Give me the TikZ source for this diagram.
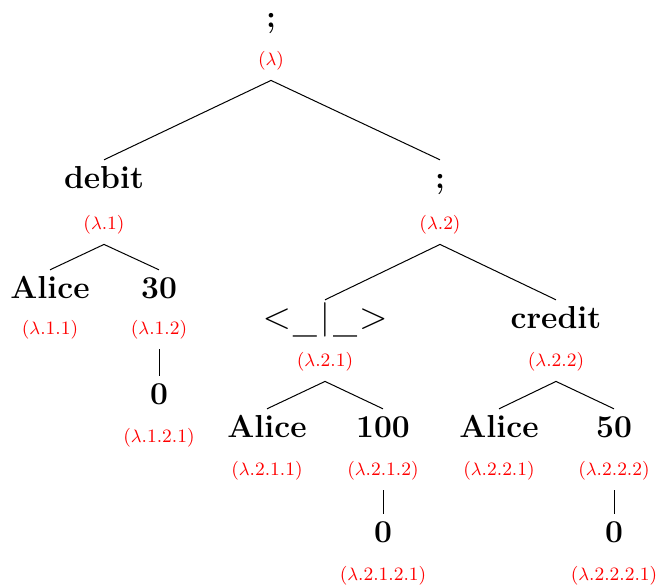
\documentclass[tikz,border=0pt]{standalone}
\usepackage{graphicx}
\tikzset{
  bnode/.style={font=\fontsize{15.9}{18}\selectfont\bfseries, anchor=base, text height=10.6pt, text depth=3pt, inner xsep=2pt, inner ysep=3.3pt},
  lab/.style={font=\fontsize{9.45}{11}\selectfont, text=red, anchor=base, text height=6pt, text depth=2pt, inner xsep=1pt, inner ysep=5.5pt},
  edge/.style={draw=black, line width=0.5pt}
}
\newcommand{\uscore}{\raisebox{-2pt}{\scalebox{0.89}[1]{\_}}}
\begin{document}
\begin{tikzpicture}[x=0.5pt,y=-0.5pt]
\useasboundingbox (0,0) rectangle (657,586);
% root
\node[bnode] (r) at (271,27) {;};
\node[lab] (rl) at (271,65) {($\lambda$)};
% level 1
\node[bnode] (n1) at (104,188) {debit};
\node[lab] (n1l) at (104,229) {($\lambda$.1)};
\node[bnode] (n2) at (440,188) {;};
\node[lab] (n2l) at (440,229) {($\lambda$.2)};
% under debit
\node[bnode] (n11) at (50,298) {Alice};
\node[lab] (n11l) at (50,334) {($\lambda$.1.1)};
\node[bnode] (n12) at (159,298) {30};
\node[lab] (n12l) at (159,334) {($\lambda$.1.2)};
\node[bnode] (n121) at (159,404) {0};
\node[lab] (n121l) at (159,442) {($\lambda$.1.2.1)};
% under ;
\node[bnode] (n21) at (325,328) {\scalebox{1.08}{$<$}\hspace{1pt}\uscore\hspace{1.6pt}$|$\hspace{1.6pt}\uscore\hspace{1pt}\scalebox{1.08}{$>$}};
\node[lab] (n21l) at (325,366) {($\lambda$.2.1)};
\node[bnode] (n22) at (556,328) {credit};
\node[lab] (n22l) at (556,366) {($\lambda$.2.2)};
% under <_|_>
\node[bnode] (n211) at (267,437) {Alice};
\node[lab] (n211l) at (267,475) {($\lambda$.2.1.1)};
\node[bnode] (n212) at (383,437) {100};
\node[lab] (n212l) at (383,475) {($\lambda$.2.1.2)};
\node[bnode] (n2121) at (383,542) {0};
\node[lab] (n2121l) at (383,580) {($\lambda$.2.1.2.1)};
% under credit
\node[bnode] (n221) at (499,437) {Alice};
\node[lab] (n221l) at (499,475) {($\lambda$.2.2.1)};
\node[bnode] (n222) at (614,437) {50};
\node[lab] (n222l) at (614,475) {($\lambda$.2.2.2)};
\node[bnode] (n2221) at (614,542) {0};
\node[lab] (n2221l) at (614,580) {($\lambda$.2.2.2.1)};
% edges
\draw[edge] (rl.south) -- (n1.north);
\draw[edge] (rl.south) -- (n2.north);
\draw[edge] (n1l.south) -- (n11.north);
\draw[edge] (n1l.south) -- (n12.north);
\draw[edge] (n12l.south) -- (n121.north);
\draw[edge] (n2l.south) -- (n21.north);
\draw[edge] (n2l.south) -- (n22.north);
\draw[edge] (n21l.south) -- (n211.north);
\draw[edge] (n21l.south) -- (n212.north);
\draw[edge] (n212l.south) -- (n2121.north);
\draw[edge] (n22l.south) -- (n221.north);
\draw[edge] (n22l.south) -- (n222.north);
\draw[edge] (n222l.south) -- (n2221.north);
\end{tikzpicture}
\end{document}
